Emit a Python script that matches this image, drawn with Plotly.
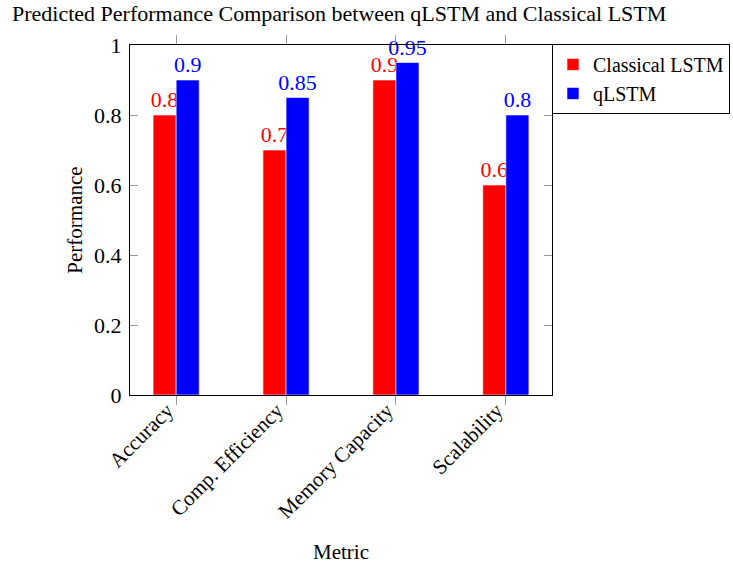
import plotly.graph_objects as go

metrics = ["Accuracy", "Comp. Efficiency", "Memory Capacity", "Scalability"]
classical = [0.8, 0.7, 0.9, 0.6]
qlstm = [0.9, 0.85, 0.95, 0.8]
y_ticks = [0, 0.2, 0.4, 0.6, 0.8, 1]

FONT = "Liberation Serif"
W, H = 733, 567

fig = go.Figure()
for name, vals, col in [("Classical LSTM", classical, "#ff0000"), ("qLSTM", qlstm, "#0000ff")]:
    fig.add_trace(go.Bar(
        x=metrics, y=vals, name=name,
        marker=dict(color=col, line=dict(color="white", width=0.6)),
        text=[f"{v:g}" for v in vals], textposition="outside",
        textfont=dict(color=col, size=22, family=FONT),
        outsidetextfont=dict(color=col, size=22, family=FONT),
        constraintext="none", cliponaxis=False,
    ))

fig.update_layout(
    width=W, height=H,
    margin=dict(l=130, r=181, t=45, b=172, autoexpand=False),
    paper_bgcolor="white", plot_bgcolor="white",
    font=dict(family=FONT, size=21, color="black"),
    barmode="group", bargap=0.58, bargroupgap=0,
    title=dict(text="Predicted Performance Comparison between qLSTM and Classical LSTM",
               x=12 / W, xanchor="left", xref="container",
               y=1 - 13 / H, yanchor="middle", yref="container",
               font=dict(size=22, family=FONT)),
    legend=dict(x=1.0, xanchor="left", y=1.003, yanchor="top",
                bordercolor="black", borderwidth=1, bgcolor="white",
                font=dict(size=20, family=FONT), tracegroupgap=0,
                itemwidth=30),
    showlegend=True,
)
fig.update_xaxes(
    range=[-0.42, 3.42], tickangle=-45, automargin=False,
    showline=True, linecolor="black", linewidth=1, mirror="ticks",
    ticks="outside", ticklen=9, tickcolor="#999999", tickwidth=1,
    tickfont=dict(size=21, family=FONT), ticklabelstandoff=-15, ticklabelshift=-9,
    title=dict(text="Metric", font=dict(size=21, family=FONT), standoff=22),
    showgrid=False,
)
fig.update_yaxes(
    range=[0, 1], tickvals=y_ticks, ticktext=[f"{v:g}" for v in y_ticks],
    automargin=False,
    showline=True, linecolor="black", linewidth=1, mirror="ticks",
    ticks="inside", ticklen=8, tickcolor="#999999", tickwidth=1,
    tickfont=dict(size=22, family=FONT), ticklabelstandoff=3,
    title=dict(text="Performance", font=dict(size=21, family=FONT), standoff=5),
    showgrid=False, zeroline=False,
)

fig.write_html("out.html", config={"displayModeBar": False},
               post_script="document.body.style.margin='0';")
